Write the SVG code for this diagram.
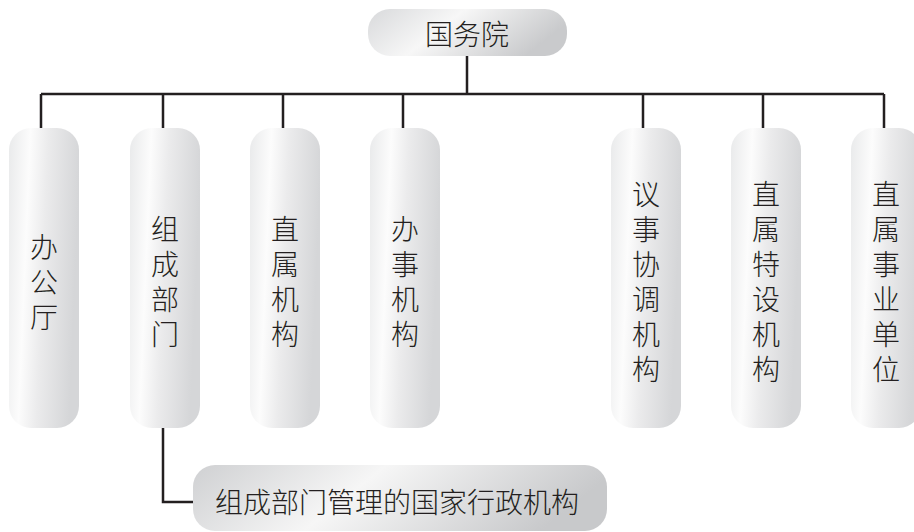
<svg xmlns="http://www.w3.org/2000/svg" width="914" height="532" viewBox="0 0 914 532">
<defs>
<linearGradient id="gCol" x1="0" y1="0" x2="1" y2="0.18">
<stop offset="0" stop-color="#e9eaeb"/>
<stop offset="0.3" stop-color="#fcfcfc"/>
<stop offset="0.55" stop-color="#ebebec"/>
<stop offset="1" stop-color="#d5d6d8"/>
</linearGradient>
<linearGradient id="gTop" x1="0" y1="0" x2="1" y2="0.3">
<stop offset="0" stop-color="#d8d9db"/>
<stop offset="0.45" stop-color="#f7f7f7"/>
<stop offset="1" stop-color="#c9cacc"/>
</linearGradient>
<linearGradient id="gBot" x1="0" y1="0" x2="1" y2="0.2">
<stop offset="0" stop-color="#cfd0d2"/>
<stop offset="0.45" stop-color="#f6f6f6"/>
<stop offset="1" stop-color="#c8c9cb"/>
</linearGradient>
</defs>
<style>
.t{font-family:"Noto Sans CJK SC","Liberation Sans",sans-serif;font-weight:300;font-size:28px;fill:#231f20;text-anchor:middle}
.v{writing-mode:vertical-rl;letter-spacing:7px}
.c{fill:url(#gCol)}
.ln{stroke:#231f20;stroke-width:2.5;fill:none}
</style>
<g id="connectors">
<path class="ln" d="M467 56V94M41 94H884M41 94V128M163 94V128M283 94V128M403 94V128M643 94V128M763 94V128M884 94V128"/>
<path class="ln" d="M163 428V502H193"/>
</g>
<g id="n-guowuyuan">
<rect x="368" y="9" width="199" height="47" rx="22" fill="url(#gTop)"/>
<text class="t" x="467" y="45">国务院</text>
</g>
<g id="n-bangongting">
<rect class="c" x="9" y="128" width="70" height="300" rx="22"/>
<text class="t v" x="44" y="286">办公厅</text>
</g>
<g id="n-zuchengbumen">
<rect class="c" x="130" y="128" width="70" height="300" rx="22"/>
<text class="t v" x="165" y="285">组成部门</text>
</g>
<g id="n-zhishujigou">
<rect class="c" x="250" y="128" width="70" height="300" rx="22"/>
<text class="t v" x="285" y="285">直属机构</text>
</g>
<g id="n-banshijigou">
<rect class="c" x="370" y="128" width="70" height="300" rx="22"/>
<text class="t v" x="405" y="285">办事机构</text>
</g>
<g id="n-yishixietiao">
<rect class="c" x="611" y="128" width="70" height="300" rx="22"/>
<text class="t v" x="646" y="285">议事协调机构</text>
</g>
<g id="n-zhishuteshe">
<rect class="c" x="731" y="128" width="70" height="300" rx="22"/>
<text class="t v" x="766" y="285">直属特设机构</text>
</g>
<g id="n-zhishushiye">
<rect class="c" x="851" y="128" width="70" height="300" rx="22"/>
<text class="t v" x="886" y="285">直属事业单位</text>
</g>
<g id="n-guanli">
<rect x="193" y="465" width="414" height="66" rx="22" fill="url(#gBot)"/>
<text class="t" x="397" y="513">组成部门管理的国家行政机构</text>
</g>
</svg>
